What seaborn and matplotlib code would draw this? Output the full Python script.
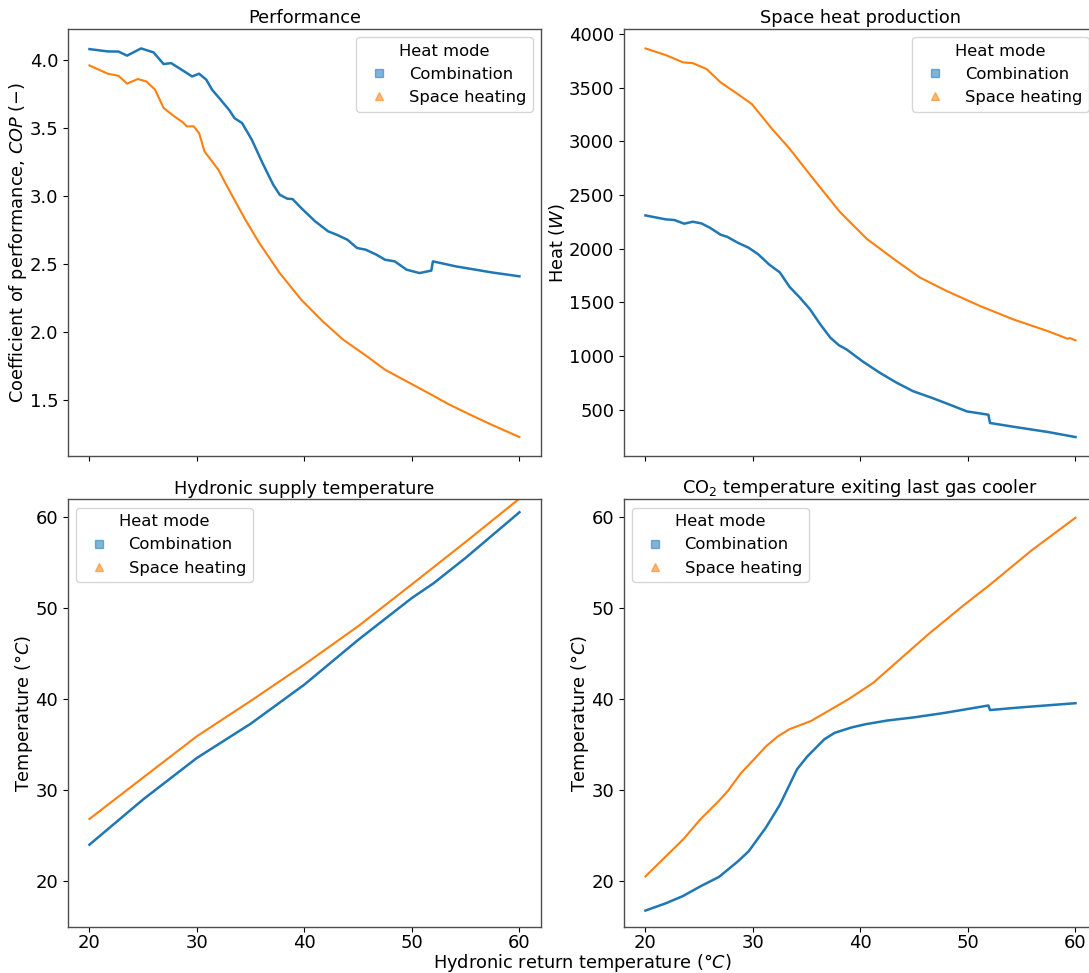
import matplotlib
matplotlib.use("Agg")
import matplotlib.pyplot as plt
import pandas as pd
import seaborn as sns
from matplotlib.lines import Line2D

# ---------------- data ----------------
modes = ["Combination", "Space heating"]
mode_colors = ["#1f77b4", "#ff7f0e"]
mode_markers = ["s", "^"]

# Performance (COP)
cop_comb_x = [20, 21.7, 22.7, 23.5, 24.8, 25.96, 26.9, 27.6, 28.7, 29.55, 30.2, 30.87,
              31.4, 32.2, 33.0, 33.5, 34.2, 35.1, 36.1, 37.1, 37.7, 38.4, 38.9, 39.7,
              41.0, 42.2, 43.0, 44.0, 44.9, 45.7, 46.7, 47.5, 48.4, 49.5, 50.7, 51.8,
              51.95, 54.1, 57.4, 60]
cop_comb = [4.078, 4.061, 4.06, 4.03, 4.083, 4.054, 3.968, 3.975, 3.92, 3.877, 3.897, 3.853,
            3.78, 3.706, 3.63, 3.57, 3.534, 3.412, 3.24, 3.08, 3.007, 2.978, 2.975, 2.909,
            2.811, 2.738, 2.713, 2.676, 2.615, 2.603, 2.566, 2.529, 2.517, 2.456, 2.431, 2.449,
            2.517, 2.48, 2.436, 2.407]
cop_space_x = [20, 21.7, 22.7, 23.5, 24.5, 25.3, 26.1, 26.9, 27.9, 28.7, 29.06, 29.7, 30.2,
               30.7, 32.0, 32.8, 34.5, 35.8, 37.7, 39.7, 41.7, 43.6, 45.6, 47.5, 49.5,
               51.8, 53.5, 55.4, 57.4, 60]
cop_space = [3.958, 3.897, 3.882, 3.824, 3.858, 3.84, 3.78, 3.645, 3.583, 3.539, 3.51, 3.51,
             3.46, 3.326, 3.19, 3.069, 2.824, 2.652, 2.431, 2.235, 2.076, 1.941, 1.831, 1.72,
             1.635, 1.537, 1.463, 1.39, 1.316, 1.225]

# Space heat production (W)
heat_comb_x = [20, 21.9, 22.7, 23.6, 24.4, 25.2, 26.0, 27.0, 27.6, 28.6, 29.6, 30.5, 31.5,
               32.5, 33.4, 34.4, 35.3, 36.3, 37.2, 38.0, 38.7, 40.2, 41.8, 43.3, 44.9,
               46.6, 48.3, 49.9, 51.9, 52.05, 54.3, 57.5, 60]
heat_comb = [2310, 2273, 2267, 2233, 2251, 2236, 2195, 2130, 2111, 2055, 2009, 1947, 1853,
             1779, 1645, 1540, 1436, 1290, 1171, 1100, 1062, 950, 844, 755, 672,
             612, 547, 484, 453, 376, 340, 291, 245]
heat_space_x = [20, 21.9, 23.5, 24.4, 25.7, 27.0, 28.6, 29.9, 31.8, 33.4, 35.6, 38.1, 40.6,
                43.1, 45.5, 48.0, 51.1, 54.2, 57.4, 59.3, 59.45, 60]
heat_space = [3866, 3804, 3736, 3729, 3673, 3549, 3440, 3347, 3113, 2933, 2652, 2341, 2091,
              1904, 1733, 1607, 1467, 1342, 1233, 1160, 1168, 1146]

# Hydronic supply temperature (degC)
sup_comb_x = [20, 25, 30, 35, 40, 45, 50, 52, 55, 60]
sup_comb = [24.03, 29.0, 33.55, 37.3, 41.6, 46.5, 51.1, 52.7, 55.5, 60.5]
sup_space_x = [20, 25, 30, 35, 40, 45, 50, 55, 60]
sup_space = [26.85, 31.4, 35.93, 39.8, 43.8, 48.0, 52.6, 57.25, 62.0]

# CO2 temperature exiting last gas cooler (degC)
co2_comb_x = [20, 21.9, 23.5, 25.1, 26.85, 28.6, 29.6, 31.2, 32.5, 34.1, 35.05, 36.65, 37.6,
              39.2, 40.5, 42.5, 45.0, 47.9, 51.9, 52.05, 55.0, 60]
co2_comb = [16.8, 17.6, 18.4, 19.45, 20.5, 22.2, 23.3, 25.9, 28.4, 32.3, 33.7, 35.6, 36.3,
            36.9, 37.25, 37.65, 38.0, 38.5, 39.3, 38.8, 39.1, 39.55]
co2_space_x = [20, 23.5, 25.1, 26.8, 27.65, 28.9, 30.1, 31.2, 32.3, 33.4, 35.4, 37.3, 38.9,
               41.2, 43.7, 46.3, 49.5, 52.1, 55.9, 60]
co2_space = [20.55, 24.6, 26.8, 28.8, 29.9, 31.9, 33.4, 34.8, 35.9, 36.7, 37.6, 38.9, 40.0,
             41.8, 44.4, 47.1, 50.2, 52.6, 56.3, 59.9]

titles = ["Performance", "Space heat production", "Hydronic supply temperature",
          r"CO$_2$ temperature exiting last gas cooler"]
ylabels = [r"Coefficient of performance, $COP$ $(-)$", r"Heat ($W$)",
           r"Temperature ($\degree C$)", r"Temperature ($\degree C$)"]
xlabel = r"Hydronic return temperature ($\degree C$)"


def frame(xc, yc, xs, ys):
    return pd.DataFrame({
        "x": list(xc) + list(xs),
        "y": list(yc) + list(ys),
        "Heat mode": [modes[0]] * len(xc) + [modes[1]] * len(xs),
    })


frames = [
    frame(cop_comb_x, cop_comb, cop_space_x, cop_space),
    frame(heat_comb_x, heat_comb, heat_space_x, heat_space),
    frame(sup_comb_x, sup_comb, sup_space_x, sup_space),
    frame(co2_comb_x, co2_comb, co2_space_x, co2_space),
]

# ---------------- styling ----------------
plt.rcParams.update({
    "font.family": ["DejaVu Sans"],
    "mathtext.fontset": "dejavusans",
    "xtick.labelsize": 13.0,
    "ytick.labelsize": 13.0,
    "xtick.major.pad": 1.5,
    "axes.labelsize": 12.8,
    "axes.titlesize": 12.8,
    "legend.fontsize": 11.8,
    "legend.title_fontsize": 11.8,
    "axes.edgecolor": "0.3",
    "axes.linewidth": 1.0,
})

fig, axes = plt.subplots(2, 2, figsize=(10.89, 9.73), dpi=100, sharex=True)
fig.subplots_adjust(left=0.0624, right=1.0073, bottom=0.0473, top=0.9702,
                    wspace=0.1755, hspace=0.1006)

palette = dict(zip(modes, mode_colors))
sizes = {modes[0]: 1.8, modes[1]: 1.5}
legend_locs = ["upper right", "upper right", "upper left", "upper left"]
ylabel_x = [-0.082, -0.120, -0.070, -0.070]

for ax, df, title, ylab, loc, lx in zip(axes.flat, frames, titles, ylabels,
                                        legend_locs, ylabel_x):
    sns.lineplot(data=df, x="x", y="y", hue="Heat mode", size="Heat mode",
                 sizes=sizes, palette=palette, hue_order=modes, errorbar=None,
                 legend=False, ax=ax)
    ax.set_title(title, pad=4)
    ax.set_ylabel(ylab)
    ax.yaxis.set_label_coords(lx, 0.5)
    ax.set_xlabel("")
    handles = [Line2D([], [], marker=m, linestyle="", color=c, alpha=0.55, markersize=6)
               for m, c in zip(mode_markers, mode_colors)]
    ax.legend(handles, modes, title="Heat mode", loc=loc)

for ax in axes[1]:
    ax.set_ylim(15.0, 61.9)
    ax.set_xticks([20, 30, 40, 50, 60])

fig.text(0.5346, 1 - 968 / 973, xlabel, ha="center", va="baseline", fontsize=12.8)

fig.savefig("out.png", dpi=100)
